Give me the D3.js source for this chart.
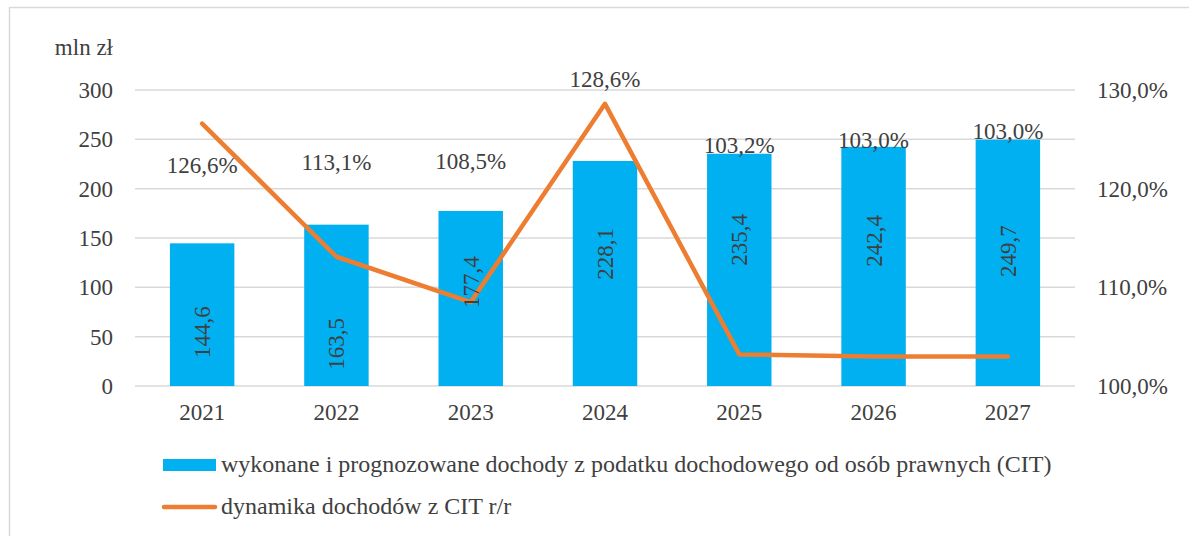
<!DOCTYPE html>
<html>
<head>
<meta charset="UTF-8">
<title>Dochody z CIT</title>
<style>
  body { margin: 0; background: #ffffff; }
</style>
</head>
<body>
<svg id="chart" width="1189" height="536"></svg>
<script src="https://cdn.jsdelivr.net/npm/d3@7"></script>
<script>
// data
var years = ["2021", "2022", "2023", "2024", "2025", "2026", "2027"];
var income = [144.6, 163.5, 177.4, 228.1, 235.4, 242.4, 249.7];   // mln zł
var dynamics = [126.6, 113.1, 108.5, 128.6, 103.2, 103.0, 103.0]; // % r/r
var leftTicks = [0, 50, 100, 150, 200, 250, 300];
var rightTicks = [100, 110, 120, 130];
var barName = "wykonane i prognozowane dochody z podatku dochodowego od osób prawnych (CIT)";
var lineName = "dynamika dochodów z CIT r/r";

// where the labels sit, in mln zł units (hand placed in the original)
var pctLabelAt = [216, 219, 220, 303, 236, 241, 250];
var valLabelAt = [54.7, 42.6, 105.4, 133.8, 148, 147, 136.8];

var FONT = "'Liberation Serif', 'Times New Roman', serif";
var TXT = "#404040";
var fmt = function(v, d) { return v.toFixed(d).replace(".", ","); };

var svg = d3.select("#chart")
    .attr("font-family", FONT)
    .attr("font-size", 23);

// outer frame
svg.append("rect")
    .attr("x", 9.5).attr("y", 7.5)
    .attr("width", 1300).attr("height", 700)
    .attr("fill", "none")
    .attr("stroke", "#d9d9d9")
    .attr("stroke-width", 1.5);

var x = d3.scaleBand().domain(years).range([135, 1075])
    .paddingInner(0.52).paddingOuter(0.26);
var yL = d3.scaleLinear().domain([0, 300]).range([386, 90]);
var yR = d3.scaleLinear().domain([100, 130]).range([386, 90]);

// gridlines
svg.append("g").selectAll("line")
    .data(leftTicks)
    .enter().append("line")
    .attr("x1", 135).attr("x2", 1075)
    .attr("y1", function(d) { return yL(d); })
    .attr("y2", function(d) { return yL(d); })
    .attr("stroke", "#d9d9d9")
    .attr("stroke-width", 1.5);

function styleAxis(g) {
    g.attr("font-family", FONT).attr("font-size", 23);
    g.select(".domain").remove();
    g.selectAll("text").attr("fill", TXT);
}

// left axis
svg.append("g")
    .attr("transform", "translate(113,0)")
    .call(d3.axisLeft(yL).tickValues(leftTicks).tickSize(0).tickPadding(0))
    .call(styleAxis);

// right axis
svg.append("g")
    .attr("transform", "translate(1097,0)")
    .call(d3.axisRight(yR).tickValues(rightTicks).tickSize(0).tickPadding(0)
        .tickFormat(function(d) { return fmt(d, 1) + "%"; }))
    .call(styleAxis);

// bottom axis
svg.append("g")
    .attr("transform", "translate(0,404)")
    .call(d3.axisBottom(x).tickSize(0).tickPadding(0))
    .call(styleAxis);

// unit label
svg.append("text")
    .attr("x", 113).attr("y", 55)
    .attr("text-anchor", "end")
    .attr("fill", TXT)
    .text("mln zł");

// bars
svg.append("g").selectAll("rect")
    .data(income)
    .enter().append("rect")
    .attr("x", function(d, i) { return x(years[i]); })
    .attr("y", function(d) { return yL(d); })
    .attr("width", x.bandwidth())
    .attr("height", function(d) { return yL(0) - yL(d); })
    .attr("fill", "#00b0f0");

// line
var line = d3.line()
    .x(function(d, i) { return x(years[i]) + x.bandwidth() / 2; })
    .y(function(d) { return yR(d); });

svg.append("path")
    .datum(dynamics)
    .attr("d", line)
    .attr("fill", "none")
    .attr("stroke", "#ed7d31")
    .attr("stroke-width", 4.5)
    .attr("stroke-linejoin", "round")
    .attr("stroke-linecap", "round");

// value labels inside bars
svg.append("g").selectAll("text")
    .data(income)
    .enter().append("text")
    .attr("transform", function(d, i) {
        return "translate(" + (x(years[i]) + x.bandwidth() / 2) + "," + yL(valLabelAt[i]) + ") rotate(-90)";
    })
    .attr("text-anchor", "middle")
    .attr("dy", "0.35em")
    .attr("fill", TXT)
    .text(function(d) { return fmt(d, 1); });

// percentage labels
svg.append("g").selectAll("text")
    .data(dynamics)
    .enter().append("text")
    .attr("x", function(d, i) { return x(years[i]) + x.bandwidth() / 2; })
    .attr("y", function(d, i) { return yL(pctLabelAt[i]); })
    .attr("text-anchor", "middle")
    .attr("fill", TXT)
    .text(function(d) { return fmt(d, 1) + "%"; });

// legend
var lg = svg.append("g").attr("font-size", 24).attr("fill", TXT);
lg.append("rect")
    .attr("x", 163).attr("y", 459)
    .attr("width", 53).attr("height", 12)
    .attr("fill", "#00b0f0");
lg.append("text")
    .attr("x", 221).attr("y", 472)
    .text(barName);
lg.append("line")
    .attr("x1", 164).attr("x2", 215)
    .attr("y1", 507).attr("y2", 507)
    .attr("stroke", "#ed7d31")
    .attr("stroke-width", 4.5)
    .attr("stroke-linecap", "round");
lg.append("text")
    .attr("x", 221).attr("y", 514)
    .text(lineName);
</script>
</body>
</html>
